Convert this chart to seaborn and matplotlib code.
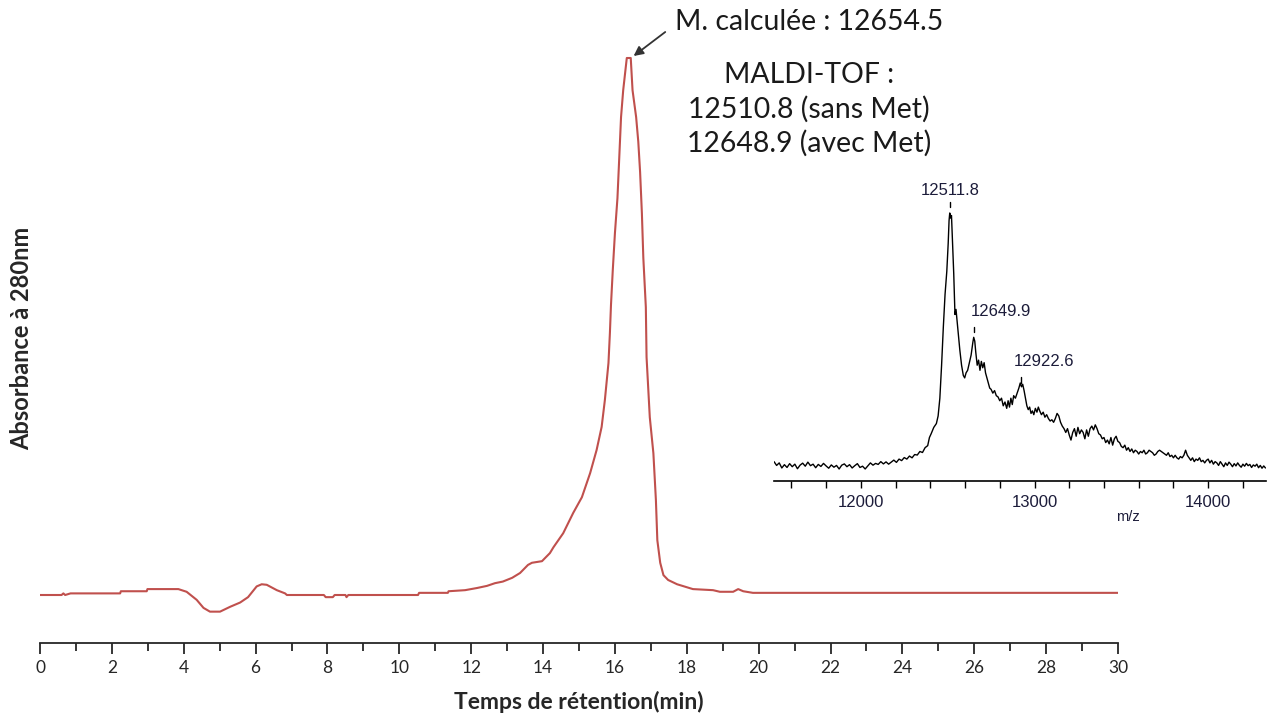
import numpy as np
import pandas as pd
import matplotlib
matplotlib.use("Agg")
import matplotlib.pyplot as plt
import seaborn as sns

# ---------------- data ----------------
# chromatogram (retention time in min, absorbance normalised to peak = 1)
time_min = [0.0, 0.6, 0.65, 0.7, 0.85, 0.9, 2.23, 2.25, 2.97, 2.99, 3.85, 4.08, 4.36, 4.55,
            4.73, 5.01, 5.29, 5.57, 5.79, 6.03, 6.17, 6.31, 6.59, 6.82, 6.87, 7.9, 7.95, 8.15,
            8.2, 8.5, 8.53, 8.58, 10.52, 10.55, 11.35, 11.37, 11.83, 12.16, 12.44, 12.66,
            12.88, 13.14, 13.36, 13.58, 13.69, 13.97, 14.19, 14.29, 14.56, 14.84, 15.08,
            15.31, 15.49, 15.63, 15.72, 15.82, 15.86, 15.89, 15.94, 16.0, 16.07, 16.12,
            16.17, 16.23, 16.33, 16.44, 16.49, 16.59, 16.65, 16.7, 16.75, 16.79, 16.86,
            16.88, 16.97, 17.07, 17.14, 17.18, 17.26, 17.35, 17.48, 17.73, 18.17, 18.73,
            18.92, 19.29, 19.43, 19.57, 19.84, 30.0]
absorbance = [0.0, 0.0, 0.003, 0.0, 0.003, 0.003, 0.003, 0.007, 0.007, 0.011, 0.011, 0.006,
              -0.009, -0.024, -0.031, -0.031, -0.022, -0.014, -0.004, 0.016, 0.02, 0.019,
              0.009, 0.003, 0.0, 0.0, -0.004, -0.004, 0.0, 0.0, -0.004, 0.0, 0.0, 0.004,
              0.004, 0.007, 0.009, 0.013, 0.017, 0.022, 0.025, 0.032, 0.041, 0.056, 0.06,
              0.063, 0.078, 0.089, 0.115, 0.153, 0.182, 0.227, 0.27, 0.313, 0.363, 0.432,
              0.488, 0.54, 0.605, 0.674, 0.739, 0.814, 0.89, 0.94, 1.0, 1.0, 0.94, 0.89,
              0.844, 0.788, 0.711, 0.628, 0.536, 0.443, 0.331, 0.264, 0.177, 0.102, 0.06,
              0.037, 0.028, 0.02, 0.011, 0.009, 0.006, 0.006, 0.011, 0.007, 0.004, 0.004]

# MALDI-TOF spectrum (m/z, relative intensity)
mz = [11500, 11515, 11530, 11545, 11560, 11575, 11590, 11605, 11620, 11635, 11650, 11665,
      11680, 11695, 11710, 11725, 11740, 11755, 11770, 11785, 11800, 11815, 11830, 11845,
      11860, 11875, 11890, 11905, 11920, 11935, 11950, 11965, 11980, 11995, 12010, 12025,
      12040, 12055, 12070, 12085, 12100, 12115, 12130, 12145, 12160, 12175, 12190, 12205,
      12220, 12235, 12250, 12265, 12280, 12295, 12310, 12325, 12340, 12355, 12370, 12385,
      12395, 12405, 12420, 12435, 12445, 12455, 12465, 12475, 12485, 12495, 12503, 12508,
      12512, 12517, 12522, 12528, 12535, 12542, 12548, 12555, 12562, 12570, 12580, 12590,
      12598, 12606, 12615, 12625, 12635, 12645, 12650, 12656, 12662, 12670, 12678, 12686,
      12694, 12702, 12710, 12718, 12726, 12734, 12742, 12750, 12760, 12770, 12780, 12790,
      12800, 12810, 12820, 12830, 12840, 12848, 12856, 12864, 12872, 12880, 12890, 12900,
      12910, 12918, 12925, 12932, 12940, 12948, 12956, 12964, 12972, 12980, 12988, 12996,
      13005, 13014, 13022, 13030, 13040, 13050, 13060, 13070, 13080, 13090, 13100, 13110,
      13120, 13130, 13140, 13150, 13160, 13170, 13180, 13190, 13200, 13210, 13220, 13230,
      13240, 13250, 13260, 13270, 13280, 13290, 13300, 13310, 13320, 13330, 13340, 13350,
      13360, 13370, 13380, 13390, 13400, 13410, 13420, 13430, 13440, 13450, 13460, 13470,
      13480, 13490, 13500, 13510, 13520, 13530, 13540, 13550, 13560, 13570, 13580, 13590,
      13600, 13610, 13620, 13630, 13640, 13650, 13660, 13670, 13680, 13690, 13700, 13710,
      13720, 13730, 13740, 13750, 13760, 13770, 13780, 13790, 13800, 13810, 13820, 13830,
      13840, 13850, 13860, 13870, 13880, 13890, 13900, 13910, 13920, 13930, 13940, 13950,
      13960, 13970, 13980, 13990, 14000, 14010, 14020, 14030, 14040, 14050, 14060, 14070,
      14080, 14090, 14100, 14110, 14120, 14130, 14140, 14150, 14160, 14170, 14180, 14190,
      14200, 14210, 14220, 14230, 14240, 14250, 14260, 14270, 14280, 14290, 14300, 14310,
      14320, 14330]
intensity = [2.0, 0.5, 1.5, -0.5, 0.8, -0.3, 1.2, 0.0, 1.0, -0.8, 0.6, 1.4,
             0.2, 1.8, 0.4, 1.0, -0.4, 0.9, 0.1, 1.3, 0.3, -0.6, 0.7, -0.2,
             0.5, -0.9, 0.6, 1.1, 0.0, 0.8, -0.5, 0.4, 1.2, -0.3, 0.2, -0.9,
             0.3, 1.5, 0.6, 1.3, 0.9, 2.0, 1.1, 1.9, 1.0, 1.8, 2.6, 1.7,
             3.0, 2.4, 3.6, 3.0, 4.2, 3.5, 4.8, 4.6, 6.0, 5.6, 7.5, 8.3,
             11.5, 13.0, 15.5, 17.0, 20.0, 27.0, 40.0, 55.0, 68.0, 77.0, 88.0, 97.0,
             100.0, 98.0, 99.0, 88.0, 76.0, 60.0, 62.0, 57.0, 52.0, 46.0, 40.0, 36.0,
             35.0, 37.0, 38.0, 41.0, 44.0, 49.0, 51.0, 49.5, 45.0, 40.0, 42.0, 38.0,
             41.5, 39.0, 41.0, 37.0, 35.0, 33.0, 31.0, 30.5, 29.0, 30.0, 28.0, 27.5,
             26.0, 27.0, 24.0, 25.5, 23.0, 26.0, 23.5, 27.0, 24.5, 28.0, 27.0, 29.0,
             31.0, 33.0, 31.5, 32.5, 30.0, 27.0, 24.0, 22.5, 23.5, 21.0, 22.0, 20.5,
             23.0, 21.5, 23.5, 22.0, 20.5, 21.5, 19.5, 20.5, 19.0, 18.0, 18.5, 17.5,
             19.0, 21.0, 20.0, 17.5, 16.0, 15.0, 13.5, 15.0, 12.5, 10.5, 13.5, 15.0,
             12.0, 15.5, 13.0, 14.5, 13.5, 11.0, 14.5, 12.0, 15.0, 16.0, 14.5, 16.5,
             15.0, 13.0, 12.5, 11.0, 11.5, 9.5, 10.5, 9.0, 11.5, 8.5, 11.0, 12.0,
             10.0, 9.5, 8.0, 7.5, 8.5, 6.5, 7.5, 6.0, 7.0, 5.5, 6.5, 6.0,
             5.0, 6.0, 5.5, 6.5, 5.0, 5.5, 6.5, 6.0, 5.5, 4.5, 5.0, 6.0,
             6.5, 6.0, 5.5, 5.0, 4.5, 5.5, 4.0, 4.5, 3.5, 4.5, 3.5, 3.0,
             4.0, 3.5, 4.5, 6.5, 4.5, 3.5, 2.5, 3.5, 2.0, 3.0, 2.5, 3.5,
             2.0, 2.5, 1.5, 2.5, 3.0, 1.5, 2.5, 1.0, 2.0, 1.5, 0.5, 2.0,
             1.0, 0.0, 1.5, 0.5, 1.8, 1.0, 0.0, 1.2, 0.3, 1.5, 0.5, -0.2,
             1.0, 0.2, 1.3, 0.4, 0.9, -0.3, 0.7, 0.2, 1.0, -0.4, 0.5, -0.6,
             0.3, -0.5]

peak_mz = [12511.8, 12649.9, 12922.6]
peak_labels = ["12511.8", "12649.9", "12922.6"]

main_ticks = list(range(0, 31, 2))
inset_ticks = [12000, 13000, 14000]

title_text = "M. calculée : 12654.5"
maldi_lines = ["MALDI-TOF :", "12510.8 (sans Met)", "12648.9 (avec Met)"]

# ---------------- style ----------------
sns.set_theme(style="white")
plt.rcParams["font.family"] = ["Lato", "DejaVu Sans"]

W, H = 1271, 715
fig = plt.figure(figsize=(W / 100, H / 100), dpi=100)

def fx(px):
    return px / W

def fy(py):
    return 1 - py / H

# main axes : x from px 40 to 1118, bottom spine at py 643
ax = fig.add_axes([fx(40), fy(643), fx(1118) - fx(40), fy(30) - fy(643)])
chrom = pd.DataFrame({"t": time_min, "a": absorbance})
sns.lineplot(data=chrom, x="t", y="a", ax=ax, color="#C0504D", linewidth=1.5,
             sort=False, estimator=None)
ax.set_xlim(0, 30)
ax.set_ylim(-(643 - 595) / 537, (595 - 30) / 537)
for s in ["top", "right", "left"]:
    ax.spines[s].set_visible(False)
ax.spines["bottom"].set_color("#262626")
ax.spines["bottom"].set_linewidth(1.3)
ax.set_yticks([])
ax.set_xticks(main_ticks)
ax.set_xticks(range(1, 30, 2), minor=True)
ax.tick_params(axis="x", which="major", direction="out", length=8, width=1.3,
               color="#262626", labelsize=12.5, labelcolor="#262626", pad=4, bottom=True)
ax.tick_params(axis="x", which="minor", direction="out", length=6, width=1.3,
               color="#262626", bottom=True)
ax.set_xlabel("Temps de rétention(min)", fontsize=16.5, fontweight="bold",
              color="#262626", labelpad=11)
ax.set_ylabel("")
fig.text(fx(22), fy(338), "Absorbance à 280nm", rotation=90, ha="center", va="center",
         fontsize=17, fontweight="bold", color="#262626")

# annotations
fig.text(fx(809), fy(22), title_text, ha="center", va="center", fontsize=20.4,
         color="#1a1a1a")
for i, line in enumerate(maldi_lines):
    fig.text(fx(809), fy(75 + 34 * i), line, ha="center", va="center", fontsize=20.4,
             color="#1a1a1a")
ax.annotate("", xy=(16.52, (595 - 56) / 537), xytext=(17.4, (595 - 32) / 537),
            arrowprops=dict(arrowstyle="-|>", color="#333333", lw=1.3,
                            mutation_scale=14, shrinkA=0, shrinkB=0))

# inset axes
ia = fig.add_axes([fx(774), fy(481), fx(1266) - fx(774), fy(180) - fy(481)])
spec = pd.DataFrame({"mz": mz, "i": intensity})
sns.lineplot(data=spec, x="mz", y="i", ax=ia, color="black", linewidth=1.0,
             sort=False, estimator=None)
ia.set_xlim(11500, 14333)
ia.set_ylim(-(481 - 466.7) / 2.537, (466.7 - 180) / 2.537)
ia.patch.set_alpha(0)
for s in ["top", "right", "left"]:
    ia.spines[s].set_visible(False)
ia.spines["bottom"].set_color("black")
ia.spines["bottom"].set_linewidth(1.2)
ia.set_yticks([])
ia.set_xticks(inset_ticks)
ia.set_xticks([v for v in range(11600, 14400, 200) if v not in inset_ticks], minor=True)
ia.tick_params(axis="x", which="both", direction="out", length=5, width=1.0,
               color="black", bottom=True)
ia.tick_params(axis="x", which="major", labelsize=12, labelcolor="#1c1c3a", pad=5)
ia.set_xlabel("m/z", fontsize=10.5, color="#1c1c3a", family=["Liberation Sans"])
ia.xaxis.set_label_coords((1128 - 774) / (1266 - 774), -0.095)
for lab in ia.get_xticklabels():
    lab.set_family(["Liberation Sans"])
ia.set_ylabel("")

# peak labels
label_pos = [(peak_mz[0], 108.8, "center"), (12633, 61.0, "left"), (12878, 41.4, "left")]
dash_pos = [(104.5, 102.5), (55.2, 53.2), (35.5, 32.9)]
for (x, y, ha), lab, pmz, (d0, d1) in zip(label_pos, peak_labels, peak_mz, dash_pos):
    ia.text(x, y, lab, ha=ha, va="center", fontsize=12, color="#1c1c3a",
            family=["Liberation Sans"])
    ia.plot([pmz, pmz], [d1, d0], color="black", lw=1.0)

fig.savefig("out.png", dpi=100)
